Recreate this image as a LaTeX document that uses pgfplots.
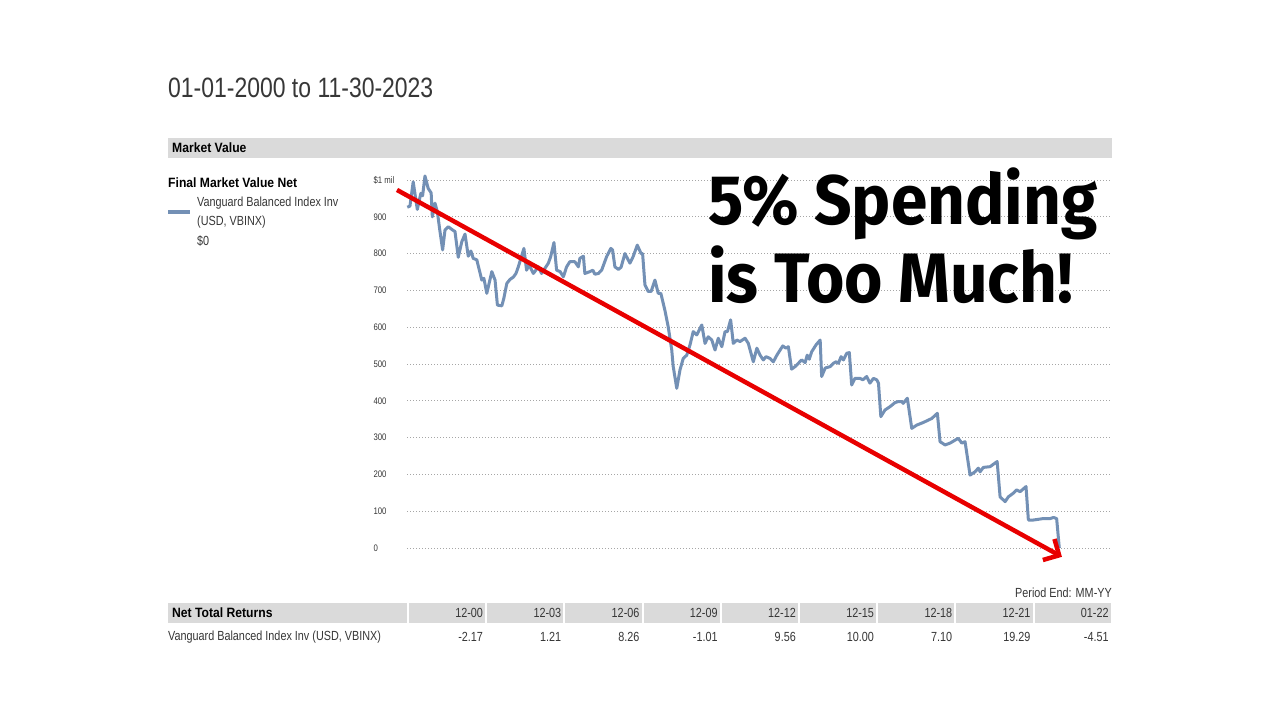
\documentclass[border=0pt]{standalone}
\usepackage{fontspec}
\setmainfont{Liberation Sans}[FakeStretch=0.82, BoldFeatures={FakeStretch=0.9}]
\newfontfamily\bigfont{Fira Sans}[FakeStretch=0.94]
\usepackage{pgfplots}
\pgfplotsset{compat=1.18}
\usetikzlibrary{arrows.meta}
\definecolor{lineblue}{RGB}{115,144,181}
\definecolor{hdrgray}{RGB}{218,218,218}
\definecolor{txt}{RGB}{55,55,55}
\definecolor{arrowred}{RGB}{232,0,0}
\pgfplotstableread{
year value
2000.01 926
2000.10 929
2000.21 995
2000.35 920
2000.47 964
2000.53 957
2000.61 1011
2000.72 977
2000.82 965
2000.86 900
2000.95 937
2001.03 914
2001.12 860
2001.21 810
2001.29 864
2001.40 873
2001.55 864
2001.63 860
2001.74 790
2001.86 832
2001.97 853
2002.08 793
2002.17 807
2002.25 787
2002.37 783
2002.54 728
2002.61 733
2002.71 692
2002.88 751
2002.99 728
2003.07 660
2003.22 658
2003.29 679
2003.39 719
2003.50 730
2003.61 736
2003.70 746
2003.78 764
2003.97 814
2004.06 755
2004.15 769
2004.29 746
2004.46 764
2004.57 746
2004.80 774
2004.88 792
2004.99 830
2005.08 755
2005.20 751
2005.31 737
2005.42 764
2005.53 778
2005.70 778
2005.82 764
2005.87 787
2005.99 793
2006.04 746
2006.21 751
2006.31 755
2006.38 744
2006.50 746
2006.61 755
2006.78 792
2006.92 814
2006.98 810
2007.06 764
2007.18 757
2007.27 763
2007.40 800
2007.57 774
2007.68 792
2007.82 823
2007.95 800
2008.00 800
2008.08 715
2008.19 697
2008.29 697
2008.42 728
2008.53 692
2008.62 692
2008.76 645
2008.87 601
2008.99 538
2009.04 493
2009.16 434
2009.27 484
2009.38 515
2009.50 524
2009.61 552
2009.72 588
2009.84 579
2010.01 606
2010.12 556
2010.23 574
2010.35 565
2010.46 538
2010.57 570
2010.69 547
2010.80 588
2010.88 588
2010.99 620
2011.08 556
2011.20 565
2011.31 561
2011.48 570
2011.59 556
2011.76 506
2011.88 543
2011.99 524
2012.10 511
2012.19 520
2012.33 515
2012.44 506
2012.56 524
2012.67 538
2012.76 549
2012.87 543
2012.95 547
2013.06 486
2013.18 493
2013.29 502
2013.40 511
2013.52 504
2013.59 524
2013.66 513
2013.74 533
2013.89 552
2014.03 565
2014.08 466
2014.20 489
2014.37 493
2014.48 502
2014.57 506
2014.65 502
2014.74 520
2014.82 511
2014.93 529
2015.02 531
2015.10 443
2015.21 461
2015.38 461
2015.48 457
2015.61 466
2015.72 448
2015.84 461
2015.95 457
2016.01 448
2016.09 357
2016.23 375
2016.40 384
2016.57 395
2016.68 398
2016.80 398
2016.85 393
2016.99 407
2017.14 325
2017.31 334
2017.53 341
2017.82 352
2018.01 366
2018.10 289
2018.27 280
2018.44 285
2018.61 293
2018.72 298
2018.84 285
2018.95 289
2019.12 198
2019.29 207
2019.40 217
2019.46 207
2019.57 219
2019.80 221
2020.04 235
2020.14 139
2020.31 126
2020.42 139
2020.59 149
2020.70 158
2020.82 153
2021.02 167
2021.10 76
2021.27 76
2021.61 80
2021.84 80
2021.95 83
2022.06 80
2022.15 0
}\mvdata
\begin{document}
\begin{tikzpicture}[x=1pt,y=1pt]
\fill[white] (0,0) rectangle (1280,720);
% title
\node[anchor=west, inner sep=0, text=txt, font=\fontsize{28}{30}\selectfont] at (168,632) {01-01-2000 to 11-30-2023};
% market value header bar
\fill[hdrgray] (168,562) rectangle (1112,582);
\node[anchor=west, inner sep=0, font=\fontsize{13.5}{15}\selectfont\bfseries] at (172,572) {Market Value};
% legend
\node[anchor=west, inner sep=0, font=\fontsize{13.5}{15}\selectfont\bfseries] at (168,537) {Final Market Value Net};
\draw[lineblue, line width=4pt] (168,508) -- (190,508);
\node[anchor=west, inner sep=0, text=txt, font=\fontsize{13.2}{14}\selectfont] at (197,517) {Vanguard Balanced Index Inv};
\node[anchor=west, inner sep=0, text=txt, font=\fontsize{13.2}{14}\selectfont] at (197,498) {(USD, VBINX)};
\node[anchor=west, inner sep=0, text=txt, font=\fontsize{13.2}{14}\selectfont] at (197,479) {\$0};
% chart
\begin{axis}[
  at={(407pt,172pt)}, anchor=south west,
  scale only axis, width=705pt, height=368pt,
  xmin=2000, xmax=2023.94, ymin=0, ymax=1000,
  clip=false,
  axis line style={draw=none},
  tick style={draw=none},
  xtick=\empty,
  ytick={0,100,...,1000},
  yticklabels={0,100,200,300,400,500,600,700,800,900,\$1 mil},
  yticklabel style={anchor=west, xshift=-37pt, text=txt, font=\fontsize{9.5}{10}\selectfont},
  ymajorgrids,
  major grid style={gray!70, line width=0.6pt, dash pattern=on 0.7pt off 2.3pt},
]
\addplot[lineblue, line width=3pt, line join=round] table[x=year, y=value] {\mvdata};
\addplot[arrowred, line width=4.5pt, -{Straight Barb[length=12pt, width=24pt, line width=4.5pt]}] coordinates {(1999.66,973) (2022.24,-24)};
\end{axis}
% overlay text
\node[anchor=base west, inner sep=0, font=\bigfont\bfseries\fontsize{70}{72}\selectfont] at (708,495) {5\% Spending};
\node[anchor=base west, inner sep=0, font=\bigfont\bfseries\fontsize{70}{72}\selectfont] at (708,417) {is Too Much!};
% period end
\node[anchor=east, inner sep=0, text=txt, font=\fontsize{13.2}{14}\selectfont] at (1112,127) {Period End: MM-YY};
% table
\fill[hdrgray] (168,97) rectangle (407,117);
\node[anchor=west, inner sep=0, font=\fontsize{13.5}{15}\selectfont\bfseries] at (172,107) {Net Total Returns};
\node[anchor=west, inner sep=0, text=txt, font=\fontsize{13.2}{14}\selectfont] at (168,83) {Vanguard Balanced Index Inv (USD, VBINX)};
\foreach \lab/\val [count=\i from 0] in {12-00/-2.17, 12-03/1.21, 12-06/8.26, 12-09/-1.01, 12-12/9.56, 12-15/10.00, 12-18/7.10, 12-21/19.29, 01-22/-4.51}{
  \pgfmathsetmacro{\xl}{409+78.2*\i}
  \pgfmathsetmacro{\xr}{\xl+76.2}
  \fill[hdrgray] (\xl,97) rectangle (\xr,117);
  \node[anchor=east, inner sep=0, text=txt, font=\fontsize{13.2}{14}\selectfont] at (\xr-2,107) {\lab};
  \node[anchor=east, inner sep=0, text=txt, font=\fontsize{13.2}{14}\selectfont] at (\xr-2,83) {\val};
}
\end{tikzpicture}
\end{document}
